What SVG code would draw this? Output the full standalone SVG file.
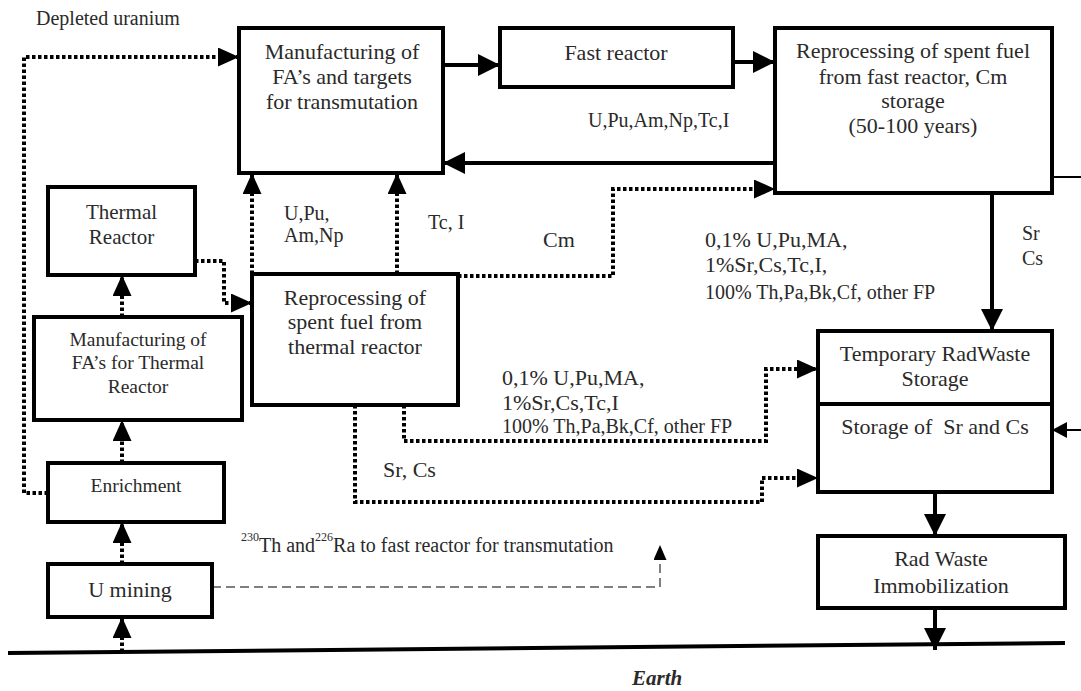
<svg xmlns="http://www.w3.org/2000/svg" width="1081" height="691" viewBox="0 0 1081 691">
<style>
.box{fill:#fff;stroke:#000;stroke-width:4}
.t{font-family:"Liberation Serif","Times New Roman",serif;fill:#2a2a2a}
.bl{font-size:22px;text-anchor:middle}
.sm{font-size:19.5px;text-anchor:middle}
.lb{font-size:20px}
.lb22{font-size:22px}
.solid{fill:none;stroke:#000;stroke-width:4}
.thin{fill:none;stroke:#000;stroke-width:2}
.dot{fill:none;stroke:#000;stroke-width:4;stroke-dasharray:3.5 2.5}
.dash{fill:none;stroke:#555;stroke-width:1.5;stroke-dasharray:9 5}
</style>
<defs>
<marker id="ah" markerUnits="userSpaceOnUse" markerWidth="22" markerHeight="22" viewBox="0 0 22 22" refX="22" refY="11" orient="auto"><path d="M0,0 L22,11 L0,22 z" fill="#000"/></marker>
<marker id="ahs" markerUnits="userSpaceOnUse" markerWidth="21" markerHeight="19" viewBox="0 0 21 19" refX="21" refY="9.5" orient="auto"><path d="M0,0 L21,9.5 L0,19 z" fill="#000"/></marker>
<marker id="aht" markerUnits="userSpaceOnUse" markerWidth="15" markerHeight="16" viewBox="0 0 15 16" refX="15" refY="8" orient="auto"><path d="M0,0 L15,8 L0,16 z" fill="#000"/></marker>
<marker id="ahd" markerUnits="userSpaceOnUse" markerWidth="15" markerHeight="13" viewBox="0 0 15 13" refX="15" refY="6.5" orient="auto"><path d="M0,0 L15,6.5 L0,13 z" fill="#000"/></marker>
</defs>
<rect width="1081" height="691" fill="#fff"/>

<g id="connectors">
<path d="M8,653 L1065,643" stroke="#000" stroke-width="4" fill="none"/>
<path class="solid" d="M443,65 L500,65" marker-end="url(#ah)"/>
<path class="solid" d="M733,62 L775,62" marker-end="url(#ah)"/>
<path class="solid" d="M775,163 L443,163" marker-end="url(#ah)"/>
<path class="solid" d="M992,193 L992,331" marker-end="url(#ah)"/>
<path class="solid" d="M935,492 L935,536" marker-end="url(#ah)"/>
<path class="solid" d="M935,608 L935,650" marker-end="url(#ah)"/>
<path class="thin" d="M1052,177 L1081,177"/>
<path class="thin" d="M1081,430 L1052,430" marker-end="url(#aht)"/>
<path class="dot" d="M48,493 L24,493 L24,57 L239,57" marker-end="url(#ahs)"/>
<path class="dot" d="M122,652 L122,617" marker-end="url(#ahs)"/>
<path class="dot" d="M122,564 L122,522" marker-end="url(#ahs)"/>
<path class="dot" d="M122,463 L122,420" marker-end="url(#ahs)"/>
<path class="dot" d="M122,317 L122,275" marker-end="url(#ahs)"/>
<path class="dot" d="M195,261 L224,261 L224,303 L252,303" marker-end="url(#ahs)"/>
<path class="dot" d="M252,274 L252,173" marker-end="url(#ahs)"/>
<path class="dot" d="M397,274 L397,173" marker-end="url(#ahs)"/>
<path class="dot" d="M458,276 L613,276 L613,189 L775,189" marker-end="url(#ahs)"/>
<path class="dot" d="M404,405 L404,441 L766,441 L766,369 L818,369" marker-end="url(#ahs)"/>
<path class="dot" d="M355,405 L355,502 L762,502 L762,478 L818,478" marker-end="url(#ahs)"/>
<path class="dash" d="M212,587 L660,587 L660,545" marker-end="url(#ahd)"/>
</g>

<g id="n-manuf-fast">
<rect class="box" x="239" y="28" width="204" height="145"/>
<text class="t bl" x="342" y="59">Manufacturing of</text>
<text class="t bl" x="342" y="84">FA’s and targets</text>
<text class="t bl" x="342" y="109">for transmutation</text>
</g>
<g id="n-fast-reactor">
<rect class="box" x="500" y="28" width="233" height="59"/>
<text class="t bl" x="616" y="60">Fast reactor</text>
</g>
<g id="n-repro-fast">
<rect class="box" x="775" y="28" width="277" height="165"/>
<text class="t bl" x="913" y="58">Reprocessing of spent fuel</text>
<text class="t bl" x="913" y="84">from fast reactor, Cm</text>
<text class="t bl" x="913" y="108">storage</text>
<text class="t bl" x="913" y="133">(50-100 years)</text>
</g>
<g id="n-thermal-reactor">
<rect class="box" x="48" y="187" width="147" height="88"/>
<text class="t bl" x="121.5" y="219" style="font-size:21px">Thermal</text>
<text class="t bl" x="121.5" y="244" style="font-size:21px">Reactor</text>
</g>
<g id="n-manuf-thermal">
<rect class="box" x="34" y="317" width="208" height="103"/>
<text class="t sm" x="138" y="346">Manufacturing of</text>
<text class="t sm" x="138" y="369">FA’s for Thermal</text>
<text class="t sm" x="138" y="393">Reactor</text>
</g>
<g id="n-enrichment">
<rect class="box" x="48" y="463" width="176" height="59"/>
<text class="t sm" x="136" y="492">Enrichment</text>
</g>
<g id="n-u-mining">
<rect class="box" x="48" y="564" width="164" height="53"/>
<text class="t bl" x="130" y="597">U mining</text>
</g>
<g id="n-repro-thermal">
<rect class="box" x="252" y="274" width="206" height="131"/>
<text class="t bl" x="355" y="305">Reprocessing of</text>
<text class="t bl" x="355" y="329">spent fuel from</text>
<text class="t bl" x="355" y="354">thermal reactor</text>
</g>
<g id="n-storage">
<rect class="box" x="818" y="331" width="234" height="161"/>
<line x1="818" y1="404" x2="1052" y2="404" stroke="#000" stroke-width="4"/>
<text class="t bl" x="935" y="361">Temporary RadWaste</text>
<text class="t bl" x="935" y="386">Storage</text>
<text class="t bl" x="935" y="434" xml:space="preserve">Storage of  Sr and Cs</text>
</g>
<g id="n-immobilization">
<rect class="box" x="818" y="536" width="247" height="72"/>
<text class="t bl" x="941" y="566">Rad Waste</text>
<text class="t bl" x="941" y="593">Immobilization</text>
</g>

<g id="labels">
<text class="t lb" x="36" y="25">Depleted uranium</text>
<text class="t lb" x="588" y="127">U,Pu,Am,Np,Tc,I</text>
<text class="t lb" x="284" y="220">U,Pu,</text>
<text class="t lb" x="284" y="242">Am,Np</text>
<text class="t lb" x="428" y="229">Tc, I</text>
<text class="t lb22" x="543" y="247">Cm</text>
<text class="t lb22" x="705" y="247">0,1% U,Pu,MA,</text>
<text class="t lb22" x="705" y="272">1%Sr,Cs,Tc,I,</text>
<text class="t lb" x="705" y="299">100% Th,Pa,Bk,Cf, other FP</text>
<text class="t lb" x="1022" y="240">Sr</text>
<text class="t lb" x="1022" y="265">Cs</text>
<text class="t lb22" x="502" y="385">0,1% U,Pu,MA,</text>
<text class="t lb22" x="502" y="410">1%Sr,Cs,Tc,I</text>
<text class="t lb" x="502" y="433">100% Th,Pa,Bk,Cf, other FP</text>
<text class="t lb22" x="383" y="477">Sr, Cs</text>
<text class="t" x="241" y="541" style="font-size:12px">230<tspan dy="11" style="font-size:20px">Th and</tspan><tspan dy="-11" style="font-size:12px">226</tspan><tspan dy="11" style="font-size:20px">Ra to fast reactor for transmutation</tspan></text>
<text class="t" x="632" y="685" style="font-size:21px;font-style:italic;font-weight:bold">Earth</text>
</g>
</svg>
